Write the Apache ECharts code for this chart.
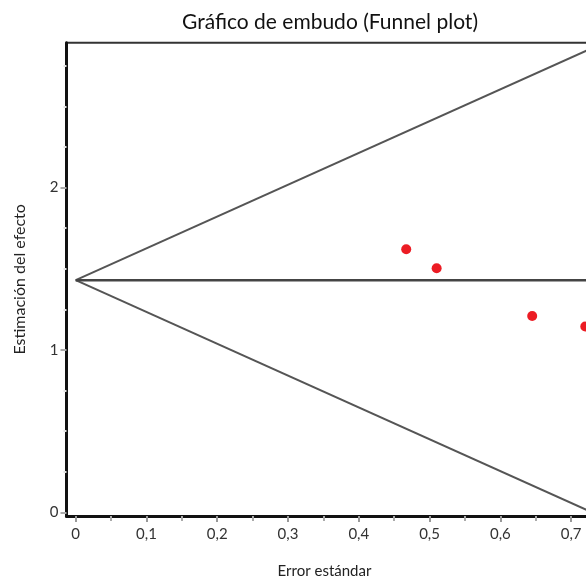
<!DOCTYPE html>
<html><head><meta charset="utf-8">
<script src="https://cdn.jsdelivr.net/npm/echarts@6/dist/echarts.min.js"></script>
<style>html,body{margin:0;padding:0;background:#fff}#c{width:586px;height:579px}</style>
</head><body><div id="c"></div>
<script>
const xTicks = [0, 0.1, 0.2, 0.3, 0.4, 0.5, 0.6, 0.7];
const xMinorTicks = [0.05, 0.15, 0.25, 0.35, 0.45, 0.55, 0.65, 0.75];
const yTicks = [0, 1, 2];
const yMinorTicks = [0.25, 0.5, 0.75, 1.25, 1.5, 1.75, 2.25, 2.5, 2.75];
const standardError = [0.467, 0.510, 0.645, 0.720];
const effectEstimate = [1.620, 1.503, 1.209, 1.144];
const pooledEffect = 1.43;
const funnelSE = [0, 0.75];
const upperLimit = [1.43, 2.90];
const lowerLimit = [1.43, -0.04];

const FONT = 'Lato';
const chart = echarts.init(document.getElementById('c'), null, {renderer: 'canvas'});
const X_MIN = -0.013, X_MAX = 0.75, Y_MIN = -0.023, Y_MAX = 2.893;

const baseX = {type: 'value', min: X_MIN, max: X_MAX, position: 'bottom', splitLine: {show: false}};
const baseY = {type: 'value', min: Y_MIN, max: Y_MAX, position: 'left', splitLine: {show: false}};

chart.setOption({
  animation: false,
  backgroundColor: '#ffffff',
  title: {
    text: 'Gráfico de embudo (Funnel plot)',
    left: 325, top: 7, textAlign: 'center',
    textStyle: {fontFamily: FONT, fontSize: 21, fontWeight: 'normal', color: '#111'}
  },
  grid: {
    left: 66.5, top: 42.7, width: 540, height: 473.3,
    outerBoundsMode: 'none', containLabel: false,
    show: true, borderColor: '#333', borderWidth: 2, backgroundColor: 'transparent'
  },
  xAxis: [
    Object.assign({}, baseX, {
      name: 'Error estándar', nameLocation: 'middle', nameGap: 48,
      nameTextStyle: {fontFamily: FONT, fontSize: 15, color: '#222', padding: [0, 24, 0, 0]},
      axisLine: {show: true, onZero: false, lineStyle: {color: '#111', width: 3}},
      axisTick: {show: true, customValues: xTicks, length: 6, lineStyle: {color: '#999', width: 2}},
      axisLabel: {customValues: xTicks, margin: 11, fontFamily: FONT, fontSize: 15, color: '#333',
        formatter: v => String(v).replace('.', ',')}
    }),
    Object.assign({}, baseX, {
      axisLine: {show: false, onZero: false},
      axisTick: {show: true, customValues: xMinorTicks, length: 5, lineStyle: {color: '#aaa', width: 2}},
      axisLabel: {show: false}
    })
  ],
  yAxis: [
    Object.assign({}, baseY, {
      name: 'Estimación del efecto', nameLocation: 'middle', nameGap: 39,
      nameTextStyle: {fontFamily: FONT, fontSize: 16, color: '#222'},
      axisLine: {show: true, onZero: false, lineStyle: {color: '#111', width: 3}},
      axisTick: {show: true, customValues: yTicks, length: 6, lineStyle: {color: '#aaa', width: 2}},
      axisLabel: {customValues: yTicks, margin: 8, fontFamily: FONT, fontSize: 15, color: '#333'}
    }),
    Object.assign({}, baseY, {
      axisLine: {show: false, onZero: false},
      axisTick: {show: true, customValues: yMinorTicks, length: 3, lineStyle: {color: '#e2e2e2', width: 2}},
      axisLabel: {show: false}
    })
  ],
  series: [
    {type: 'line', xAxisIndex: 0, yAxisIndex: 0, symbol: 'none', silent: true, clip: true,
      lineStyle: {color: '#555', width: 2},
      data: funnelSE.map((s, i) => [s, upperLimit[i]])},
    {type: 'line', xAxisIndex: 0, yAxisIndex: 0, symbol: 'none', silent: true, clip: true,
      lineStyle: {color: '#555', width: 2},
      data: funnelSE.map((s, i) => [s, lowerLimit[i]])},
    {type: 'line', xAxisIndex: 0, yAxisIndex: 0, symbol: 'none', silent: true, clip: true,
      lineStyle: {color: '#444', width: 2.5},
      data: funnelSE.map(s => [s, pooledEffect])},
    {type: 'scatter', xAxisIndex: 0, yAxisIndex: 0, symbolSize: 10, clip: false,
      itemStyle: {color: '#ec1c24', opacity: 1},
      data: standardError.map((s, i) => [s, effectEstimate[i]])}
  ]
});
</script></body></html>
